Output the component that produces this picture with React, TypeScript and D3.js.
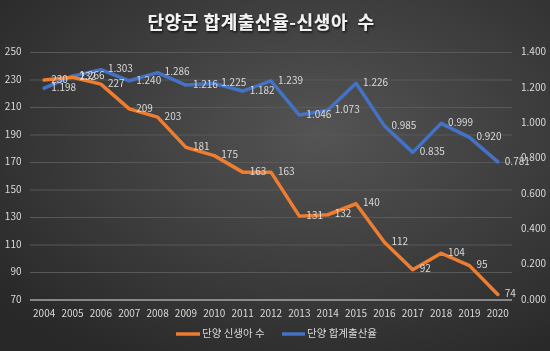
import * as d3 from "d3";
import React from "react";

const years = [
  "2004", "2005", "2006", "2007", "2008", "2009", "2010", "2011", "2012",
  "2013", "2014", "2015", "2016", "2017", "2018", "2019", "2020",
];
const births = [230, 232, 227, 209, 203, 181, 175, 163, 163, 131, 132, 140, 112, 92, 104, 95, 74];
const tfr = [
  1.198, 1.266, 1.303, 1.24, 1.286, 1.216, 1.225, 1.182, 1.239, 1.046, 1.073,
  1.226, 0.985, 0.835, 0.999, 0.92, 0.781,
];
const leftTicks = [70, 90, 110, 130, 150, 170, 190, 210, 230, 250];
const rightTicks = [0, 0.2, 0.4, 0.6, 0.8, 1.0, 1.2, 1.4];

const W = 550;
const H = 351;
const m = { top: 52.5, right: 38, bottom: 51, left: 30 };

const orange = "#ED7D31";
const blue = "#4472C4";
const textCol = "#d9d9d9";
const font = "'Noto Sans CJK KR', 'Noto Sans', sans-serif";

export default function App() {
  const x = d3
    .scaleBand<string>()
    .domain(years)
    .range([m.left, W - m.right])
    .padding(0);
  const cx = (y: string) => x(y)! + x.bandwidth() / 2;

  const yL = d3.scaleLinear().domain([70, 250]).range([H - m.bottom, m.top]);
  const yR = d3.scaleLinear().domain([0, 1.4]).range([H - m.bottom, m.top]);

  const lineL = d3
    .line<number>()
    .x((_, i) => cx(years[i]))
    .y((d) => yL(d));
  const lineR = d3
    .line<number>()
    .x((_, i) => cx(years[i]))
    .y((d) => yR(d));

  const fmt = d3.format(".3f");

  return (
    <div style={{ position: "fixed", left: 0, top: 0 }}>
      <svg width={W} height={H} style={{ display: "block", fontFamily: font }}>
        <defs>
          <radialGradient id="bg" cx="58%" cy="38%" r="75%">
            <stop offset="0%" stopColor="#545454" />
            <stop offset="100%" stopColor="#282828" />
          </radialGradient>
          <filter id="sh" x="-10%" y="-30%" width="120%" height="160%">
            <feDropShadow dx="1" dy="1.5" stdDeviation="1" floodColor="#000" floodOpacity="0.8" />
          </filter>
        </defs>
        <rect width={W} height={H} fill="url(#bg)" />

        {/* title */}
        <text
          x={261}
          y={29}
          textAnchor="middle"
          fill="#f2f2f2"
          fontSize={18}
          fontWeight="bold"
          letterSpacing={0.6}
          filter="url(#sh)"
          style={{ whiteSpace: "pre" }}
        >
          {"단양군 합계출산율-신생아  수"}
        </text>

        {/* grid */}
        {leftTicks.map((t) => (
          <g key={t}>
            {t !== 70 && (
              <line
                x1={m.left}
                x2={W - m.right}
                y1={yL(t)}
                y2={yL(t)}
                stroke="#595959"
                strokeWidth={1}
              />
            )}
            <text
              x={21.5}
              y={yL(t)}
              textAnchor="end"
              dominantBaseline="middle"
              fontSize={10}
              fill={textCol}
            >
              {t}
            </text>
          </g>
        ))}
        <line
          x1={m.left}
          x2={W - m.right}
          y1={yL(70)}
          y2={yL(70)}
          stroke="#a6a6a6"
          strokeWidth={1.5}
        />
        {rightTicks.map((t) => (
          <text
            key={t}
            x={521}
            y={yR(t)}
            dominantBaseline="middle"
            fontSize={10}
            fill={textCol}
          >
            {fmt(t)}
          </text>
        ))}

        {/* x labels */}
        {years.map((yr) => (
          <text
            key={yr}
            x={cx(yr)}
            y={317}
            textAnchor="middle"
            fontSize={10}
            fill={textCol}
          >
            {yr}
          </text>
        ))}

        {/* lines */}
        <path d={lineR(tfr) ?? undefined} fill="none" stroke={blue} strokeWidth={3.5} strokeLinejoin="round" strokeLinecap="round" />
        <path d={lineL(births) ?? undefined} fill="none" stroke={orange} strokeWidth={3.5} strokeLinejoin="round" strokeLinecap="round" />

        {/* data labels */}
        {births.map((v, i) => (
          <text
            key={`b${i}`}
            x={cx(years[i]) + 7}
            y={yL(v)}
            dominantBaseline="middle"
            fontSize={10}
            fill={textCol}
          >
            {v}
          </text>
        ))}
        {tfr.map((v, i) => (
          <text
            key={`t${i}`}
            x={cx(years[i]) + 7}
            y={yR(v)}
            dominantBaseline="middle"
            fontSize={10}
            fill={textCol}
          >
            {fmt(v)}
          </text>
        ))}

        {/* legend */}
        <line x1={176} x2={200} y1={334} y2={334} stroke={orange} strokeWidth={3.5} />
        <text x={202} y={334} dominantBaseline="middle" fontSize={10.5} fill={textCol}>
          단양 신생아 수
        </text>
        <line x1={282} x2={305} y1={334} y2={334} stroke={blue} strokeWidth={3.5} />
        <text x={307} y={334} dominantBaseline="middle" fontSize={10.5} fill={textCol}>
          단양 합계출산율
        </text>
      </svg>
    </div>
  );
}
